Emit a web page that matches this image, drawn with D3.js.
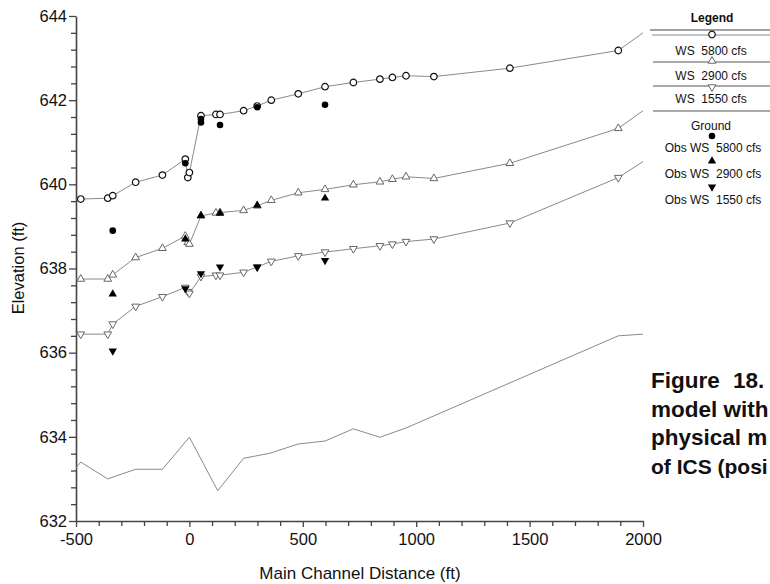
<!DOCTYPE html>
<html><head><meta charset="utf-8">
<script src="https://cdn.jsdelivr.net/npm/d3@7"></script>
<style>
body{margin:0;background:#fff;}
text{font-family:Arial,"Liberation Sans",sans-serif;}
</style>
</head><body>
<svg id="c" width="770" height="584"></svg>
<script>
// ---------- data ----------
const stations = [-500, -479, -360, -338, -237, -119, -18, -7, 0, 51, 117, 135, 239, 299, 361, 480, 598, 723, 840, 895, 955, 1078, 1413, 1891, 2000];
const ws5800 = [639.65, 639.65, 639.67, 639.73, 640.05, 640.22, 640.60, 640.16, 640.28, 641.63, 641.66, 641.66, 641.75, 641.86, 642.00, 642.15, 642.32, 642.42, 642.50, 642.54, 642.58, 642.56, 642.76, 643.18, 643.60];
const ws2900 = [637.75, 637.75, 637.75, 637.85, 638.26, 638.48, 638.77, 638.62, 638.58, 639.25, 639.32, 639.33, 639.38, 639.49, 639.62, 639.80, 639.88, 639.99, 640.06, 640.12, 640.18, 640.14, 640.50, 641.33, 641.75];
const ws1550 = [636.44, 636.44, 636.44, 636.68, 637.10, 637.33, 637.55, 637.45, 637.41, 637.81, 637.84, 637.84, 637.91, 638.04, 638.17, 638.30, 638.39, 638.47, 638.54, 638.58, 638.64, 638.70, 639.08, 640.16, 640.54];

const groundStations = [-500, -479, -360, -237, -119, 0, 125, 239, 355, 480, 598, 723, 840, 955, 1891, 2000];
const ground = [633.26, 633.40, 633.00, 633.23, 633.23, 633.99, 632.72, 633.49, 633.61, 633.83, 633.90, 634.19, 633.99, 634.21, 636.40, 636.44];

const obs5800Dist = [-338, -18, 51, 51, 135, 299, 598];
const obs5800 = [638.90, 640.50, 641.55, 641.47, 641.41, 641.83, 641.89];
const obs2900Dist = [-338, -18, 51, 135, 299, 598];
const obs2900 = [637.39, 638.70, 639.26, 639.31, 639.50, 639.67];
const obs1550Dist = [-338, -18, 51, 135, 299, 598];
const obs1550 = [636.04, 637.52, 637.88, 638.04, 638.03, 638.19];

const xMajorTicks = [-500, 0, 500, 1000, 1500, 2000];
const yMajorTicks = [632, 634, 636, 638, 640, 642, 644];
const xTitle = "Main Channel Distance (ft)";
const yTitle = "Elevation (ft)";
const legendTitle = "Legend";
const legendLabels = ["WS  5800 cfs", "WS  2900 cfs", "WS  1550 cfs", "Ground", "Obs WS  5800 cfs", "Obs WS  2900 cfs", "Obs WS  1550 cfs"];
const captionLines = [["Figure", "18."], ["model with"], ["physical m"], ["of ICS (posi"]];

// ---------- chart ----------
const svg = d3.select("#c");
const x = d3.scaleLinear().domain([-500, 2000]).range([76, 643]);
const y = d3.scaleLinear().domain([632, 644]).range([521, 16]);

const AX = "#444";
const LINE = "#8a8a8a";

// minor ticks
const xMinor = d3.range(-500, 2001, 100).filter(v => !xMajorTicks.includes(v));
const yMinor = d3.range(0, 31).map(i => 632 + i * 0.4).filter(v => Math.abs(v - Math.round(v / 2) * 2) > 1e-6);

const fmt = d => String(d);
const gx = svg.append("g").attr("transform", "translate(0,521)");
gx.call(d3.axisBottom(x).tickValues(xMajorTicks).tickSize(6).tickSizeOuter(0).tickPadding(6).tickFormat(fmt));
gx.append("g").call(d3.axisBottom(x).tickValues(xMinor).tickSize(5).tickSizeOuter(0).tickFormat(""))
  .select(".domain").remove();

const gy = svg.append("g").attr("transform", "translate(76,0)");
gy.call(d3.axisLeft(y).tickValues(yMajorTicks).tickSize(7).tickSizeOuter(0).tickPadding(2).tickFormat(fmt));
gy.append("g").call(d3.axisLeft(y).tickValues(yMinor).tickSize(5).tickSizeOuter(0).tickFormat(""))
  .select(".domain").remove();

svg.selectAll(".domain").attr("stroke", AX).attr("stroke-width", 1.6);
svg.selectAll(".tick line").attr("stroke", AX).attr("stroke-width", 1.3);
svg.selectAll(".tick text").attr("font-size", 16.5).attr("fill", "#111")
  .attr("font-family", "Arial, 'Liberation Sans', sans-serif");

// axis titles
svg.append("text").attr("x", 360).attr("y", 579).attr("text-anchor", "middle")
  .attr("font-size", 17).attr("fill", "#111").text(xTitle);
svg.append("text").attr("transform", "translate(24,268) rotate(-90)").attr("text-anchor", "middle")
  .attr("font-size", 16.5).attr("fill", "#111").text(yTitle);

// lines
const line = d3.line().x(d => x(d[0])).y(d => y(d[1]));
const mk = (xs, ys) => xs.map((d, i) => [d, ys[i]]);
[ws5800, ws2900, ws1550].forEach(s => {
  svg.append("path").datum(mk(stations, s)).attr("d", line)
    .attr("fill", "none").attr("stroke", LINE).attr("stroke-width", 1);
});
svg.append("path").datum(mk(groundStations, ground)).attr("d", line)
  .attr("fill", "none").attr("stroke", LINE).attr("stroke-width", 1);

// symbol helpers
const circ = d3.symbol().type(d3.symbolCircle).size(34)();
const tri = d3.symbol().type(d3.symbolTriangle).size(26)();
const ftri = d3.symbol().type(d3.symbolTriangle).size(30)();

function openCircle(g, cx, cy) {
  g.append("path").attr("d", circ).attr("transform", `translate(${cx},${cy})`)
    .attr("fill", "#fff").attr("stroke", "#111").attr("stroke-width", 1.2);
}
function openTri(g, cx, cy, down) {
  g.append("path").attr("d", tri).attr("transform", `translate(${cx},${cy})${down ? " rotate(180)" : ""}`)
    .attr("fill", "#fff").attr("stroke", "#666").attr("stroke-width", 1);
}
function filled(g, path, cx, cy, down) {
  g.append("path").attr("d", path).attr("transform", `translate(${cx},${cy})${down ? " rotate(180)" : ""}`)
    .attr("fill", "#000");
}

// WS markers (interior stations only)
const mg = svg.append("g");
stations.forEach((d, i) => {
  if (i === 0 || i === stations.length - 1) return;
  openCircle(mg, x(d), y(ws5800[i]));
  openTri(mg, x(d), y(ws2900[i]), false);
  openTri(mg, x(d), y(ws1550[i]), true);
});
// observed markers
obs5800Dist.forEach((d, i) => filled(mg, circ, x(d), y(obs5800[i]), false));
obs2900Dist.forEach((d, i) => filled(mg, ftri, x(d), y(obs2900[i]), false));
obs1550Dist.forEach((d, i) => filled(mg, ftri, x(d), y(obs1550[i]), true));

// legend
const lg = svg.append("g");
lg.append("text").attr("x", 712).attr("y", 22).attr("text-anchor", "middle")
  .attr("font-size", 12).attr("font-weight", "bold").attr("fill", "#111").text(legendTitle);
const hl = (y0, x0, col) => lg.append("line").attr("x1", x0).attr("x2", 770).attr("y1", y0).attr("y2", y0)
  .attr("stroke", col).attr("stroke-width", 1.2);
hl(30, 650, "#444");
hl(35, 652, "#888");
hl(62, 653, "#555");
hl(86, 653, "#555");
hl(111, 653, "#555");
openCircle(lg, 712, 34.5);
openTri(lg, 712, 61, false);
openTri(lg, 712, 87, true);
filled(lg, circ, 712, 136, false);
filled(lg, ftri, 712, 161, false);
filled(lg, ftri, 712, 187, true);
const labelY = [55, 80, 103, 130, 152, 178, 204];
legendLabels.forEach((t, i) => {
  lg.append("text").attr("x", i < 4 ? 711 : 713).attr("y", labelY[i]).attr("text-anchor", "middle")
    .attr("font-size", 12).attr("fill", "#111").style("white-space", "pre").text(t);
});

// caption
const capY = [388, 417, 445, 474];
captionLines.forEach((parts, i) => {
  const last = i === captionLines.length - 1;
  const t = svg.append("text").attr("y", capY[i]).attr("font-size", last ? 21 : 22.5)
    .attr("font-weight", "bold").attr("fill", "#111");
  t.append("tspan").attr("x", 651).text(parts[0]);
  if (parts.length === 2) t.append("tspan").attr("x", 733).text(parts[1]);
});
</script>
</body></html>
